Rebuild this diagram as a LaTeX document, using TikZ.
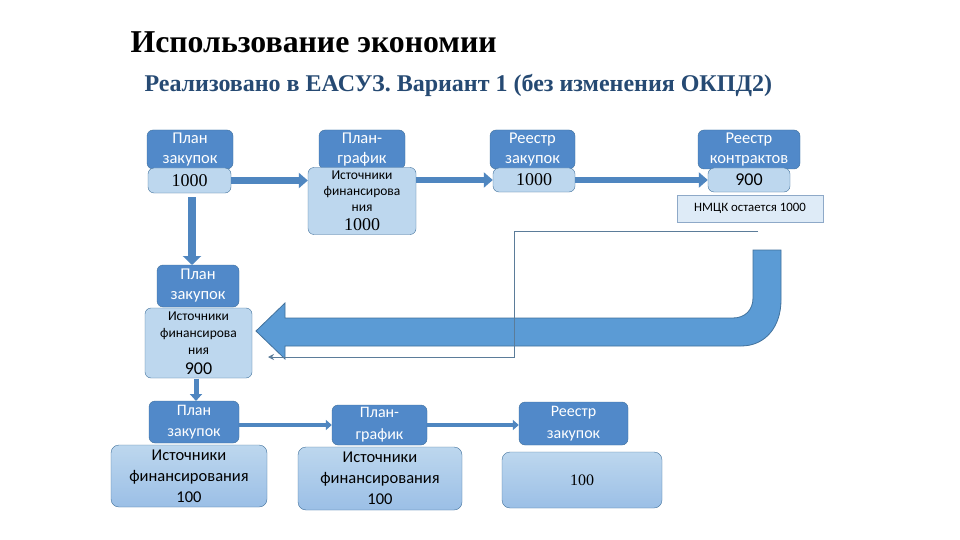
\documentclass[tikz,border=0pt]{standalone}
\usepackage{fontspec}
\setmainfont{Liberation Serif}
\newfontfamily\calf{Carlito}
\usetikzlibrary{arrows.meta}
\definecolor{dkf}{HTML}{5189C9}
\definecolor{dkb}{HTML}{41719C}
\definecolor{ltf}{HTML}{BDD7EE}
\definecolor{arr}{HTML}{4F86C0}
\definecolor{big}{HTML}{5B9BD5}
\definecolor{subt}{HTML}{264A73}
\definecolor{notef}{HTML}{DEEBF7}
\definecolor{noteb}{HTML}{8EA9C8}
\definecolor{thinl}{HTML}{5B7C99}
\definecolor{ltb}{HTML}{9BBFE6}
\tikzset{
  dk/.style={draw=dkb, fill=dkf, rounded corners=6pt, text=white, align=center, inner sep=0pt,
    font=\calf\fontsize{16.5}{19.5}\selectfont},
  lt/.style={draw=dkb, fill=ltf, rounded corners=6pt, text=black, align=center, inner sep=0pt},
  ltg/.style={draw=dkb, top color=ltf, bottom color=ltb, rounded corners=8pt, text=black, align=center, inner sep=0pt},
  thickarr/.style={draw=arr, line width=6pt, -{Triangle[width=15pt,length=9pt]}},
  vertarr/.style={draw=arr, line width=8pt, -{Triangle[width=18pt,length=9pt]}},
  thinarr/.style={draw=arr, line width=4pt, -{Triangle[width=10pt,length=6pt]}},
}
\begin{document}
\begin{tikzpicture}[x=1pt,y=-1pt]
\useasboundingbox[fill=white] (0,0) rectangle (960,540);
% titles
\node[anchor=west, font=\bfseries\fontsize{31.8}{33}\selectfont] (title) at (127,42) {Использование экономии};
\node[anchor=west, text=subt, font=\bfseries\fontsize{24}{26}\selectfont] (sub) at (141,85) {Реализовано в ЕАСУЗ. Вариант 1 (без изменения ОКПД2)};
% top row
\node[dk, minimum width=86, minimum height=39] (a1) at (190,149.5) {План\\закупок};
\node[lt, minimum width=83, minimum height=25, font=\fontsize{18}{20}\selectfont] (a2) at (189.5,180.5) {1000};
\node[dk, minimum width=86, minimum height=39] (b1) at (362,149.5) {План-\\график};
\node[lt, minimum width=108, minimum height=67, font=\calf\fontsize{13.5}{16}\selectfont] (b2) at (362,201) {Источники\\финансирова\\ния\\[3pt]\rmfamily\fontsize{18}{19}\selectfont 1000};
\node[dk, minimum width=85, minimum height=39] (c1) at (532.5,149.5) {Реестр\\закупок};
\node[lt, minimum width=82, minimum height=24, font=\fontsize{18}{20}\selectfont] (c2) at (534,180) {1000};
\node[dk, minimum width=102, minimum height=39] (d1) at (749,149.5) {Реестр\\контрактов};
\node[lt, minimum width=82, minimum height=24, font=\calf\fontsize{18}{20}\selectfont] (d2) at (749,180) {900};
\node[draw=noteb, fill=notef, minimum width=146, minimum height=27, inner sep=0pt, font=\calf\fontsize{12.8}{14}\selectfont] (note) at (750,208.5) {НМЦК остается 1000};
% top arrows
\draw[thickarr] (a2.east) -- (b2.west |- a2.east);
\draw[thickarr] (b2.east |- c2.west) -- (c2.west);
\draw[thickarr] (c2.east) -- (d2.west);
% left column
\node[dk, minimum width=82, minimum height=42, font=\calf\fontsize{16.5}{20}\selectfont] (e1) at (198,286) {План\\закупок};
\node[lt, minimum width=107, minimum height=70, font=\calf\fontsize{13.5}{17}\selectfont] (e2) at (198.5,343) {Источники\\финансирова\\ния\\[3pt]\fontsize{18}{20}\selectfont 900};
\coordinate (v1) at (192,197);
\coordinate (v2) at (192,265);
\draw[vertarr] (v1) -- (v2);
% thin connector
\coordinate (t1) at (758,231);
\coordinate (t2) at (514,231);
\coordinate (t3) at (514,357);
\coordinate (t4) at (268,357);
% big U arrow
\path[fill=big, draw=dkb, line width=0.8pt] (781,250) -- (781,300)
  .. controls (781,326) and (766,346) .. (741,346)
  -- (285,346) -- (285,359) -- (256,331) -- (285,303) -- (285,318)
  -- (733,318) .. controls (745,318) and (753,310) .. (753,298)
  -- (753,250) -- cycle;
\draw[thinl, line width=0.8pt, -{Stealth[width=6pt,length=6pt]}] (t1) -- (t2) -- (t3) -- (t4);
% bottom rows
\node[dk, minimum width=90, minimum height=42, font=\calf\fontsize{16}{21}\selectfont] (f1) at (194,422) {План\\закупок};
\node[ltg, minimum width=156, minimum height=62, font=\calf\fontsize{16.5}{21}\selectfont] (f2) at (189,476) {Источники\\финансирования\\100};
\coordinate (v3) at (196,378.5);
\coordinate (v4) at (196,401);
\draw[thinarr, line width=5pt, -{Triangle[width=12pt,length=7pt]}] (v3) -- (v4);
\node[dk, minimum width=95, minimum height=40, font=\calf\fontsize{16}{22}\selectfont] (g1) at (379.5,425) {План-\\график};
\node[ltg, minimum width=164, minimum height=63, font=\calf\fontsize{16.5}{21}\selectfont] (g2) at (380,478.5) {Источники\\финансирования\\100};
\node[dk, minimum width=109, minimum height=43, font=\calf\fontsize{16}{22}\selectfont] (h1) at (573.5,423.5) {Реестр\\закупок};
\node[ltg, minimum width=160, minimum height=56, font=\fontsize{16}{18}\selectfont] (h2) at (582,480) {100};
\draw[thinarr] (f1.east |- g1.west) -- (g1.west);
\draw[thinarr] (g1.east) -- (h1.west |- g1.east);
\end{tikzpicture}
\end{document}
